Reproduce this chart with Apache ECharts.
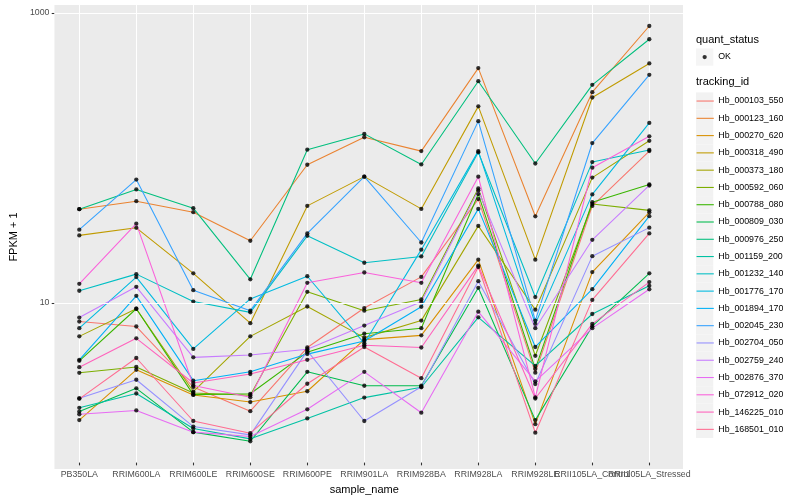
<!DOCTYPE html>
<html><head><meta charset="utf-8">
<script src="https://cdn.jsdelivr.net/npm/echarts@6/dist/echarts.min.js"></script>
<style>html,body{margin:0;padding:0;background:#fff}#c{width:800px;height:500px}</style>
</head><body><div id="c"></div><script>
const categories = ['PB350LA','RRIM600LA','RRIM600LE','RRIM600SE','RRIM600PE','RRIM901LA','RRIM928BA','RRIM928LA','RRIM928LE','RRII105LA_Control','RRII105LA_Stressed'];
const trackingIds = ['Hb_000103_550','Hb_000123_160','Hb_000270_620','Hb_000318_490','Hb_000373_180','Hb_000592_060','Hb_000788_080','Hb_000809_030','Hb_000976_250','Hb_001159_200','Hb_001232_140','Hb_001776_170','Hb_001894_170','Hb_002045_230','Hb_002704_050','Hb_002759_240','Hb_002876_370','Hb_072912_020','Hb_146225_010','Hb_168501_010'];
const Hb_000103_550 = [6.94, 6.41, 2.42, 1.64, 4.57, 8.63, 14.25, 49.9, 3.05, 44.7, 108];
const Hb_000123_160 = [42.4, 48.2, 40.4, 25.5, 86.7, 135, 108, 411, 37.8, 279, 810];
const Hb_000270_620 = [1.42, 3.19, 2.13, 1.90, 2.26, 5.19, 5.56, 18.8, 1.33, 15.4, 40.3];
const Hb_000318_490 = [27.8, 31.4, 15.1, 6.76, 44.7, 71.6, 42.6, 222, 18.8, 256, 443];
const Hb_000373_180 = [5.47, 8.53, 2.25, 5.47, 8.85, 5.36, 7.05, 32.4, 8.40, 70.5, 127.5];
const Hb_000592_060 = [3.04, 3.34, 2.20, 2.12, 11.2, 8.27, 9.9, 59.2, 4.00, 46.1, 41.6];
const Hb_000788_080 = [3.69, 8.53, 2.14, 2.17, 4.24, 5.71, 6.24, 54.1, 3.24, 47.4, 63.1];
const Hb_000809_030 = [1.63, 2.37, 1.17, 1.01, 3.09, 2.47, 2.47, 11.96, 1.42, 6.44, 15.1];
const Hb_000976_250 = [42.4, 58.3, 43.1, 13.7, 110.5, 142.5, 87.1, 333, 88.5, 314, 654];
const Hb_001159_200 = [1.73, 2.18, 1.24, 1.05, 1.46, 2.04, 2.41, 7.43, 3.40, 7.84, 12.35];
const Hb_001232_140 = [11.4, 14.9, 9.58, 8.05, 27.6, 17.9, 19.8, 106, 10.3, 90.5, 110];
const Hb_001776_170 = [6.24, 14.2, 4.47, 10.0, 14.4, 4.89, 22.1, 108, 6.69, 53.8, 170];
const Hb_001894_170 = [3.75, 10.5, 2.68, 3.09, 4.11, 5.08, 8.81, 42.6, 4.61, 11.7, 37.9];
const Hb_002045_230 = [30.5, 68.3, 11.5, 8.27, 28.7, 71.6, 24.8, 175, 7.05, 123, 369];
const Hb_002704_050 = [2.02, 2.72, 1.28, 1.12, 4.33, 1.40, 2.43, 13.3, 2.54, 19.9, 31.5];
const Hb_002759_240 = [7.40, 12.15, 3.90, 4.05, 4.45, 6.51, 9.54, 57.4, 6.24, 25.9, 62.1];
const Hb_002876_370 = [1.56, 1.66, 1.17, 1.09, 1.69, 3.09, 1.60, 8.14, 2.65, 6.24, 11.67];
const Hb_072912_020 = [12.75, 33.6, 2.48, 2.05, 12.95, 15.3, 12.95, 71.6, 2.05, 82.7, 137];
const Hb_146225_010 = [3.33, 5.30, 2.58, 2.98, 3.75, 4.74, 4.57, 17.1, 2.01, 6.69, 13.1];
const Hb_168501_010 = [2.00, 3.86, 1.40, 1.15, 2.55, 4.61, 2.79, 16.7, 1.16, 9.84, 28.7];
const seriesValues = [Hb_000103_550, Hb_000123_160, Hb_000270_620, Hb_000318_490, Hb_000373_180, Hb_000592_060, Hb_000788_080, Hb_000809_030, Hb_000976_250, Hb_001159_200, Hb_001232_140, Hb_001776_170, Hb_001894_170, Hb_002045_230, Hb_002704_050, Hb_002759_240, Hb_002876_370, Hb_072912_020, Hb_146225_010, Hb_168501_010];
const yTickValues = [10, 1000];
const yTickLabels = ['10', '1000'];
const yMin = 0.7164, yMax = 1135.6;

const palette = ['#F8766D','#EA8331','#D89000','#C09B00','#A3A500','#7CAE00','#39B600','#00BB4E','#00BF7D','#00C1A3','#00BFC4','#00BAE0','#00B0F6','#35A2FF','#9590FF','#C77CFF','#E76BF3','#FA62DB','#FF62BC','#FF6C91'];
const FF = 'Liberation Sans, Arial, Helvetica, sans-serif';

const chart = echarts.init(document.getElementById('c'), null, {renderer: 'canvas'});

const lineSeries = trackingIds.map((id, k) => ({
  type: 'line', name: id, xAxisIndex: 1, yAxisIndex: 1,
  data: seriesValues[k].map((v, i) => [i, v]),
  symbol: 'none', silent: true, z: 2,
  lineStyle: {color: palette[k], width: 1.07},
  itemStyle: {color: palette[k]}
}));
const pointData = [];
seriesValues.forEach(arr => arr.forEach((v, i) => pointData.push([i, v])));

const catIdx = categories.map((c, i) => i);
const mainLabelIdx = catIdx.filter(i => i !== categories.length - 2);
const sideLabelIdx = [categories.length - 2];
const catLabel = v => categories[Math.round(v)] || '';
const xLabelStyle = {show: true, margin: 7.5, fontSize: 8.8, color: '#4D4D4D', fontFamily: FF, hideOverlap: false, showMinLabel: true, showMaxLabel: true, formatter: catLabel};

const KEY = 17.28;
const SYM = KEY * 0.8;
const legendCommon = {orient: 'vertical', left: 696, padding: 0, selectedMode: false, width: 104, height: 400};

const option = {
  animation: false,
  backgroundColor: '#FFFFFF',
  textStyle: {fontFamily: FF},
  title: [
    {text: 'quant_status', left: 696, top: 34.5, padding: 0, textStyle: {fontSize: 11, fontWeight: 'normal', color: '#000', fontFamily: FF}},
    {text: 'tracking_id', left: 696, top: 76.5, padding: 0, textStyle: {fontSize: 11, fontWeight: 'normal', color: '#000', fontFamily: FF}}
  ],
  legend: [
    Object.assign({}, legendCommon, {data: [{name: 'OK', icon: 'rect'}], top: 48.4, itemWidth: KEY, itemHeight: KEY, z: 3,
     itemStyle: {color: '#F2F2F2', borderWidth: 0}, textStyle: {fontSize: 8.8, color: '#000', fontFamily: FF}}),
    Object.assign({}, legendCommon, {data: [{name: 'OK', icon: 'circle'}], left: 702.5, top: 54.9, itemWidth: 4.3, itemHeight: 4.3, z: 5,
     itemStyle: {color: '#000'}, textStyle: {fontSize: 1, color: 'rgba(0,0,0,0)'}}),
    Object.assign({}, legendCommon, {data: trackingIds.map(n => ({name: n, icon: 'rect'})), top: 92.4, itemWidth: KEY, itemHeight: KEY, itemGap: 0, z: 3,
     itemStyle: {color: '#F2F2F2', borderWidth: 0}, textStyle: {fontSize: 8.8, color: '#000', fontFamily: FF}}),
    Object.assign({}, legendCommon, {data: trackingIds.map(n => ({name: n})), top: 92.4 + (KEY - SYM) / 2, itemWidth: KEY, itemHeight: KEY, itemGap: KEY - SYM, z: 5,
     itemStyle: {opacity: 0}, lineStyle: {width: 1.07}, textStyle: {fontSize: 8.8, color: 'rgba(0,0,0,0)', fontFamily: FF}})
  ],
  grid: [
    {left: 45, top: 5, width: 638, height: 464, show: true, backgroundColor: '#EBEBEB', borderWidth: 0, containLabel: false},
    {left: 79.3, top: 5, width: 570, height: 464, show: false, containLabel: false}
  ],
  xAxis: [
    {type: 'value', gridIndex: 0, min: 0, max: 1, show: false},
    {type: 'value', gridIndex: 1, min: 0, max: categories.length - 1, interval: 1,
     name: 'sample_name', nameLocation: 'middle', nameGap: 12.5,
     nameTextStyle: {fontSize: 11, color: '#000', fontFamily: FF},
     axisLine: {show: false},
     axisTick: {show: true, length: 2.75, lineStyle: {color: '#333333', width: 1.07}},
     axisLabel: Object.assign({}, xLabelStyle, {customValues: mainLabelIdx}),
     splitLine: {show: true, lineStyle: {color: '#FFFFFF', width: 1.07}}},
    {type: 'value', gridIndex: 1, min: 0, max: categories.length - 1, interval: 1, position: 'bottom', offset: 0,
     axisLine: {show: false}, axisTick: {show: false}, splitLine: {show: false},
     axisLabel: Object.assign({}, xLabelStyle, {customValues: sideLabelIdx})}
  ],
  yAxis: [
    {type: 'log', gridIndex: 0, logBase: 10, min: yMin, max: yMax,
     name: 'FPKM + 1', nameLocation: 'middle', nameGap: 32,
     nameTextStyle: {fontSize: 11, color: '#000', fontFamily: FF},
     axisLine: {show: false},
     axisTick: {show: true, length: 2.75, customValues: yTickValues, lineStyle: {color: '#333333', width: 1.07}},
     axisLabel: {show: true, margin: 5, fontSize: 8.8, color: '#4D4D4D', fontFamily: FF, customValues: yTickValues,
       formatter: v => { const i = yTickValues.findIndex(t => Math.abs(t - v) / t < 1e-6); return i >= 0 ? yTickLabels[i] : ''; }},
     splitLine: {show: true, showMinLine: false, showMaxLine: false, lineStyle: {color: '#FFFFFF', width: 0.53}}},
    {type: 'log', gridIndex: 1, logBase: 10, min: yMin, max: yMax, show: false, splitLine: {show: false}}
  ],
  series: [
    {type: 'line', name: '__major', xAxisIndex: 0, yAxisIndex: 0, data: [], silent: true, z: 1,
     markLine: {silent: true, symbol: ['none', 'none'], label: {show: false}, animation: false,
       lineStyle: {color: '#FFFFFF', width: 1.07, type: 'solid'},
       data: yTickValues.map(v => ({yAxis: v}))}},
    ...lineSeries,
    {type: 'scatter', name: 'OK', xAxisIndex: 1, yAxisIndex: 1, data: pointData, symbol: 'circle', symbolSize: 4.3,
     itemStyle: {color: '#000000'}, silent: true, z: 3}
  ]
};
chart.setOption(option);
</script></body></html>
